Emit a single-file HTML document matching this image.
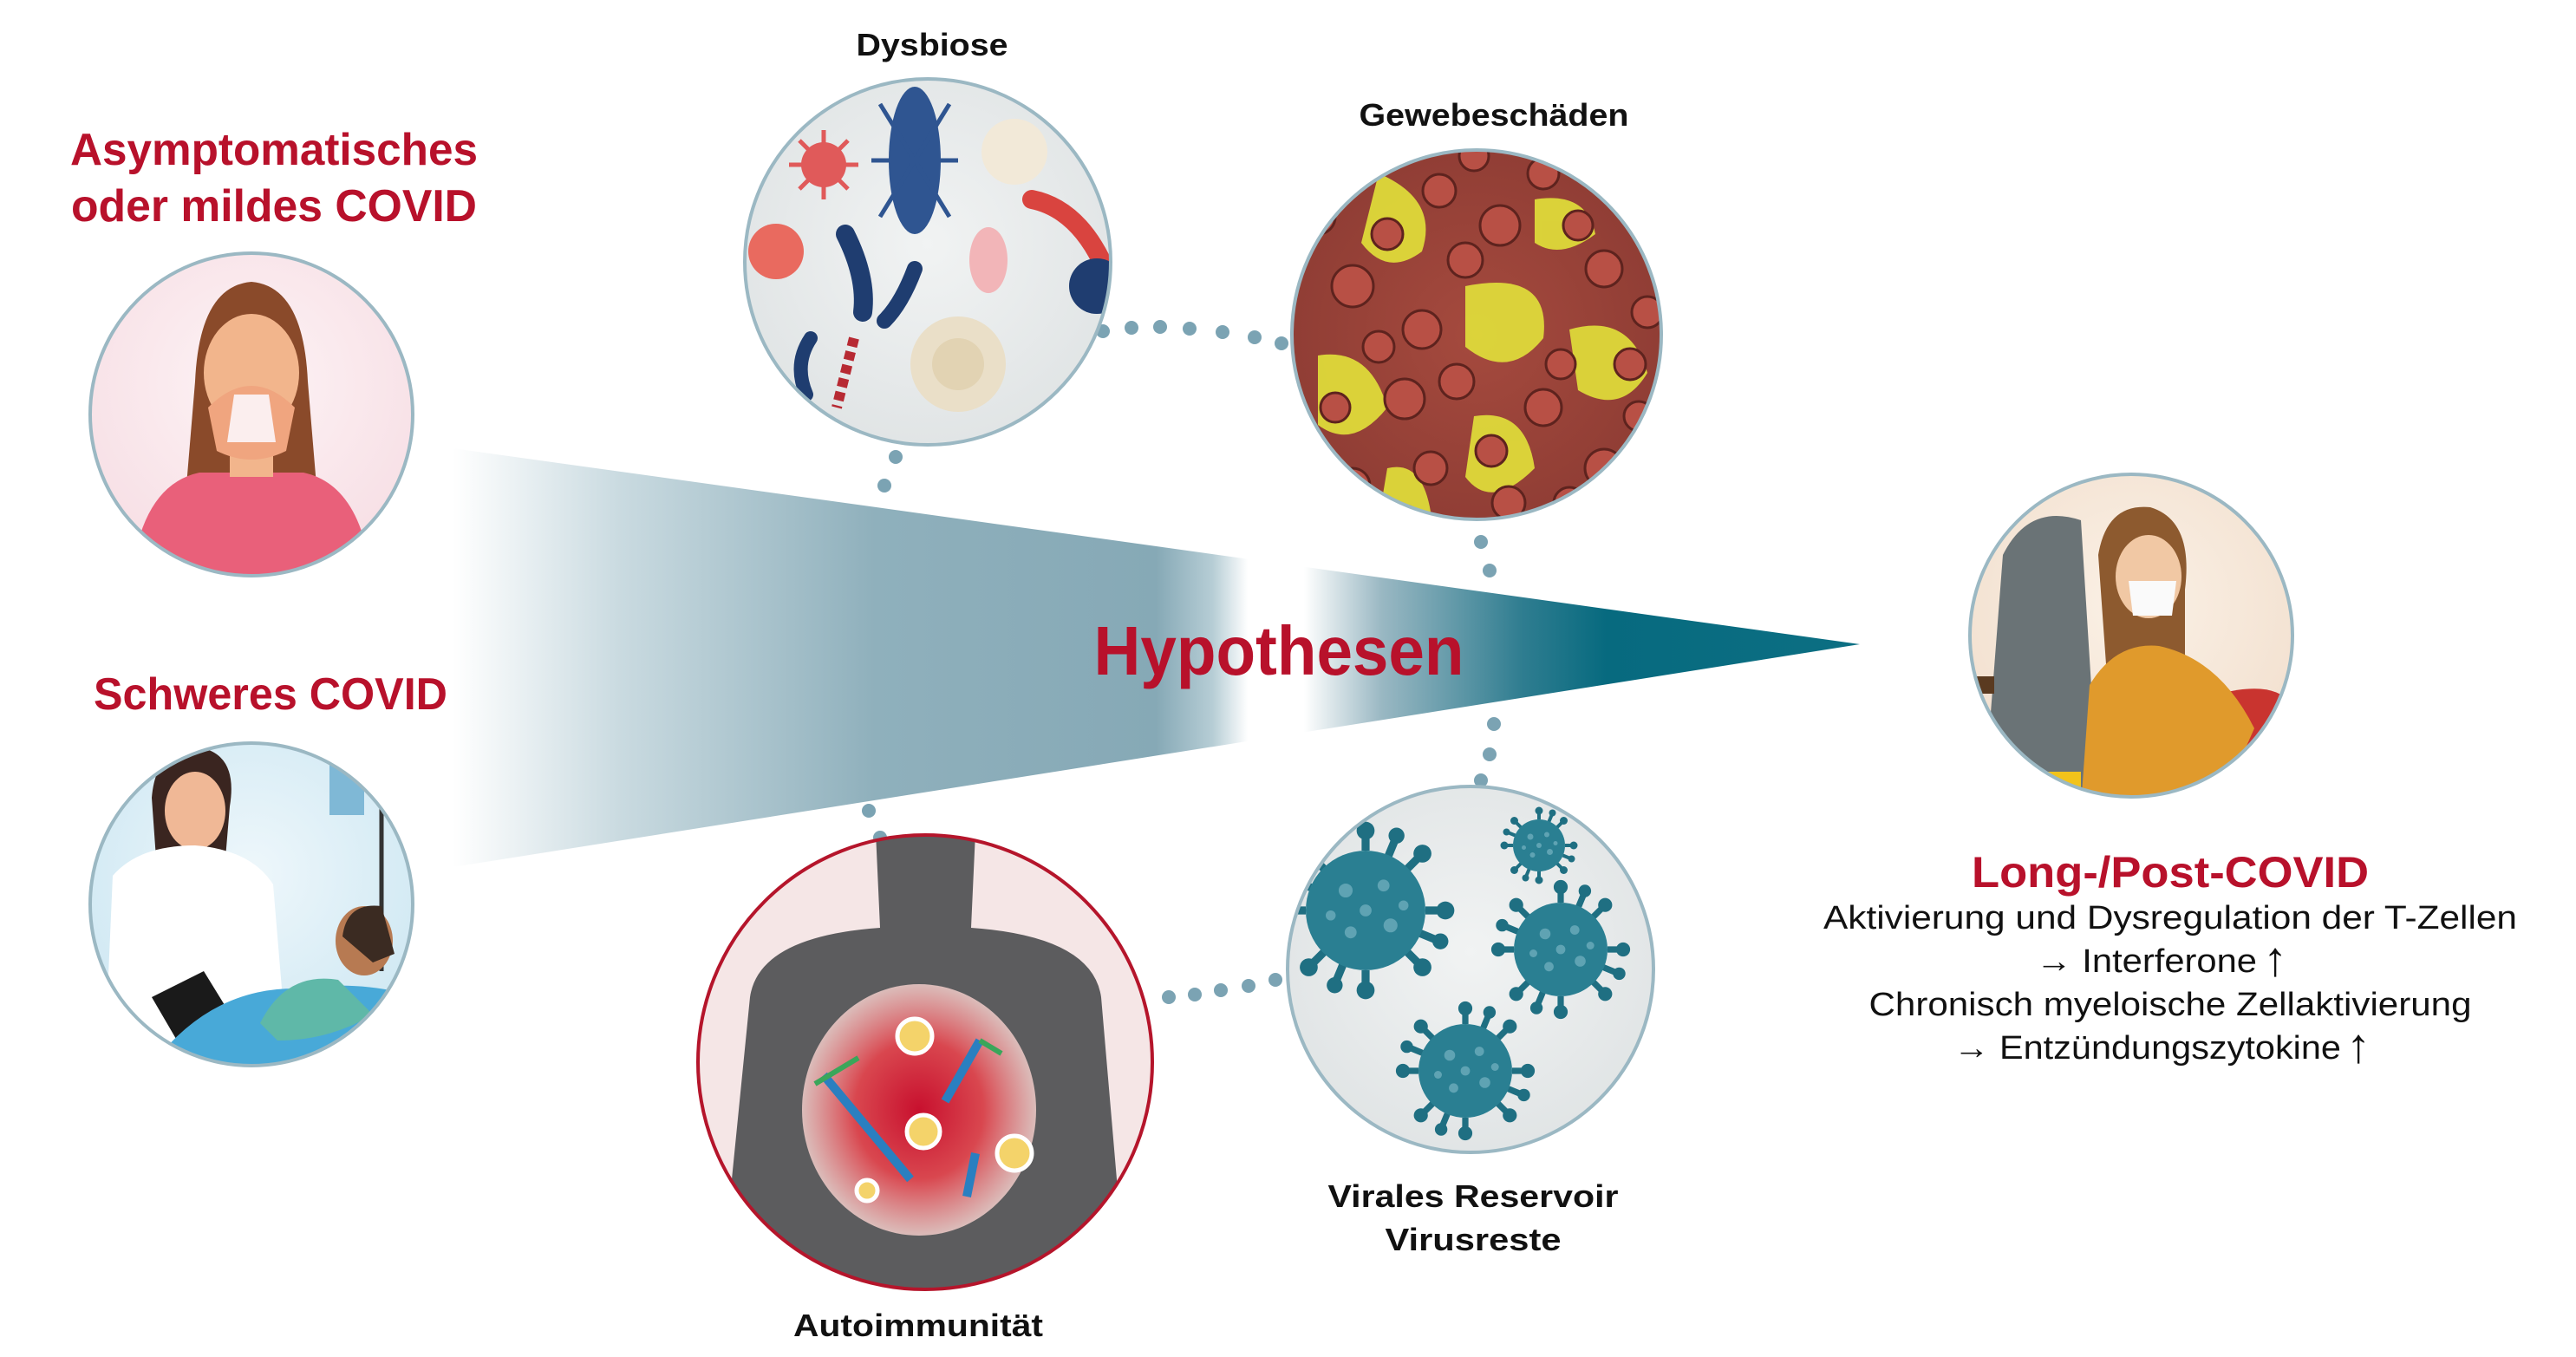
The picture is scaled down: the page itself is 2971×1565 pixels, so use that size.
<!DOCTYPE html>
<html><head><meta charset="utf-8"><style>
html,body{margin:0;padding:0;background:#fff;width:2971px;height:1565px;overflow:hidden}
svg{display:block}
text{font-family:"Liberation Sans Narrow","Liberation Sans",sans-serif}
</style></head><body>
<svg width="2971" height="1565" viewBox="0 0 2971 1565" xmlns="http://www.w3.org/2000/svg">
<defs>
<linearGradient id="wedge" x1="522" y1="0" x2="2145" y2="0" gradientUnits="userSpaceOnUse">
<stop offset="0" stop-color="#ffffff"/>
<stop offset="0.12" stop-color="#c9dae0"/>
<stop offset="0.3" stop-color="#8fb0bc"/>
<stop offset="0.5" stop-color="#86a9b6"/>
<stop offset="0.54" stop-color="#b6cdd5"/>
<stop offset="0.565" stop-color="#ffffff"/>
<stop offset="0.605" stop-color="#ffffff"/>
<stop offset="0.66" stop-color="#9ab8c3"/>
<stop offset="0.76" stop-color="#2f7d90"/>
<stop offset="0.82" stop-color="#076a7f"/>
<stop offset="1" stop-color="#0c6f83"/>
</linearGradient>
<radialGradient id="pink" cx="0.5" cy="0.4" r="0.6"><stop offset="0" stop-color="#fdf3f5"/><stop offset="1" stop-color="#f7dfe5"/></radialGradient>
<radialGradient id="hosp" cx="0.5" cy="0.4" r="0.6"><stop offset="0" stop-color="#eef7fb"/><stop offset="1" stop-color="#cfe8f3"/></radialGradient>
<radialGradient id="gray" cx="0.5" cy="0.45" r="0.6"><stop offset="0" stop-color="#f1f3f3"/><stop offset="1" stop-color="#dfe3e4"/></radialGradient>
<radialGradient id="tissue" cx="0.5" cy="0.5" r="0.6"><stop offset="0" stop-color="#a54a3e"/><stop offset="1" stop-color="#8c3b33"/></radialGradient>
<radialGradient id="glow" cx="0.5" cy="0.5" r="0.5"><stop offset="0" stop-color="#c8102e"/><stop offset="0.55" stop-color="#d9474f"/><stop offset="1" stop-color="#e9c7c4" stop-opacity="0.9"/></radialGradient>
<radialGradient id="beige" cx="0.5" cy="0.4" r="0.6"><stop offset="0" stop-color="#fbf1e6"/><stop offset="1" stop-color="#f2e0cf"/></radialGradient>
<clipPath id="c1"><circle cx="290" cy="478" r="186"/></clipPath>
<clipPath id="c2"><circle cx="290" cy="1043" r="186"/></clipPath>
<clipPath id="c3"><circle cx="1070" cy="302" r="211"/></clipPath>
<clipPath id="c4"><circle cx="1703" cy="386" r="213"/></clipPath>
<clipPath id="c5"><circle cx="1067" cy="1225" r="262"/></clipPath>
<clipPath id="c6"><circle cx="1696" cy="1118" r="211"/></clipPath>
<clipPath id="c7"><circle cx="2458" cy="733" r="186"/></clipPath>
<g id="virus">
<g stroke="#1f6f82" stroke-width="8">
<line x1="0" y1="-60" x2="0" y2="-78"/><line x1="0" y1="60" x2="0" y2="78"/>
<line x1="-60" y1="0" x2="-78" y2="0"/><line x1="60" y1="0" x2="78" y2="0"/>
<line x1="42" y1="42" x2="55" y2="55"/><line x1="-42" y1="42" x2="-55" y2="55"/>
<line x1="42" y1="-42" x2="55" y2="-55"/><line x1="-42" y1="-42" x2="-55" y2="-55"/>
<line x1="23" y1="-55" x2="30" y2="-72"/><line x1="-23" y1="55" x2="-30" y2="72"/>
<line x1="55" y1="23" x2="72" y2="30"/><line x1="-55" y1="-23" x2="-72" y2="-30"/>
</g>
<g fill="#1f6f82">
<circle cx="0" cy="-80" r="9"/><circle cx="0" cy="80" r="9"/><circle cx="-80" cy="0" r="9"/><circle cx="80" cy="0" r="9"/>
<circle cx="57" cy="57" r="9"/><circle cx="-57" cy="57" r="9"/><circle cx="57" cy="-57" r="9"/><circle cx="-57" cy="-57" r="9"/>
<circle cx="31" cy="-75" r="8"/><circle cx="-31" cy="75" r="8"/><circle cx="75" cy="31" r="8"/><circle cx="-75" cy="-31" r="8"/>
</g>
<circle r="60" fill="#2a7f92"/>
<g fill="#5fa3b3"><circle cx="-20" cy="-20" r="7"/><circle cx="18" cy="-25" r="6"/><circle cx="25" cy="15" r="7"/><circle cx="-15" cy="22" r="6"/><circle cx="0" cy="0" r="6"/><circle cx="-35" cy="5" r="5"/><circle cx="38" cy="-5" r="5"/></g>
</g>
</defs>

<polygon points="522,517 2145,743 522,1000" fill="url(#wedge)"/>

<g fill="#7ba3b3">
<circle cx="1272" cy="382" r="8"/><circle cx="1305" cy="378" r="8"/><circle cx="1338" cy="377" r="8"/><circle cx="1372" cy="379" r="8"/><circle cx="1410" cy="383" r="8"/><circle cx="1447" cy="389" r="8"/><circle cx="1478" cy="396" r="8"/>
<circle cx="1033" cy="527" r="8"/><circle cx="1020" cy="560" r="8"/>
<circle cx="1708" cy="625" r="8"/><circle cx="1718" cy="658" r="8"/>
<circle cx="1723" cy="835" r="8"/><circle cx="1718" cy="870" r="8"/><circle cx="1708" cy="900" r="8"/>
<circle cx="1002" cy="935" r="8"/><circle cx="1015" cy="966" r="8"/>
<circle cx="1348" cy="1150" r="8"/><circle cx="1378" cy="1147" r="8"/><circle cx="1408" cy="1142" r="8"/><circle cx="1440" cy="1137" r="8"/><circle cx="1471" cy="1130" r="8"/>
</g>

<g clip-path="url(#c1)">
<rect x="100" y="290" width="380" height="380" fill="url(#pink)"/>
<path d="M225,440 Q230,330 290,325 Q350,330 355,440 L365,560 L215,560 Z" fill="#8a4a2a"/>
<ellipse cx="290" cy="430" rx="55" ry="68" fill="#f2b58c"/>
<path d="M150,680 Q160,560 230,545 L350,545 Q420,560 430,680 Z" fill="#e9607a"/>
<rect x="265" y="490" width="50" height="60" fill="#f2b58c"/>
<path d="M240,470 Q290,420 340,470 L330,520 Q290,540 250,520 Z" fill="#f0a57f"/>
<path d="M270,455 L310,455 L318,510 L262,510 Z" fill="#fbeeee"/>
</g>
<circle cx="290" cy="478" r="186" fill="none" stroke="#9bb8c3" stroke-width="4"/>

<g clip-path="url(#c2)">
<rect x="100" y="855" width="380" height="380" fill="url(#hosp)"/>
<rect x="380" y="870" width="40" height="70" fill="#7fb8d6"/>
<line x1="440" y1="870" x2="440" y2="1120" stroke="#333" stroke-width="5"/>
<path d="M175,920 Q180,860 230,862 Q275,870 265,930 L260,990 L180,990 Z" fill="#3a2520"/>
<ellipse cx="225" cy="935" rx="35" ry="45" fill="#f0b896"/>
<path d="M120,1240 L130,1010 Q160,975 225,975 Q290,980 315,1020 L325,1140 L200,1240 Z" fill="#ffffff"/>
<path d="M175,1150 L235,1120 L275,1185 L210,1210 Z" fill="#1a1a1a"/>
<path d="M160,1250 Q230,1140 340,1140 Q420,1130 480,1150 L480,1250 Z" fill="#48a9d8"/>
<path d="M300,1180 Q330,1120 390,1130 L430,1170 Q380,1200 320,1200 Z" fill="#5fb8a8"/>
<ellipse cx="420" cy="1085" rx="33" ry="40" fill="#b77a52"/>
<path d="M395,1080 Q400,1040 440,1045 L455,1100 L430,1110 Z" fill="#3b2b22"/>
</g>
<circle cx="290" cy="1043" r="186" fill="none" stroke="#9bb8c3" stroke-width="4"/>

<g clip-path="url(#c3)">
<rect x="855" y="88" width="430" height="430" fill="url(#gray)"/>
<ellipse cx="1055" cy="185" rx="30" ry="85" fill="#2f5591"/>
<g stroke="#2f5591" stroke-width="5"><line x1="1015" y1="120" x2="1095" y2="250"/><line x1="1095" y1="120" x2="1015" y2="250"/><line x1="1005" y1="185" x2="1105" y2="185"/></g>
<circle cx="950" cy="190" r="26" fill="#e05a5a"/>
<g stroke="#e05a5a" stroke-width="5"><line x1="910" y1="190" x2="990" y2="190"/><line x1="950" y1="150" x2="950" y2="230"/><line x1="922" y1="162" x2="978" y2="218"/><line x1="978" y1="162" x2="922" y2="218"/></g>
<circle cx="895" cy="290" r="32" fill="#e96a5f"/>
<circle cx="1170" cy="175" r="38" fill="#f2e9d8"/>
<path d="M1190,230 Q1240,240 1270,300" stroke="#d9443f" stroke-width="22" fill="none" stroke-linecap="round"/>
<ellipse cx="1140" cy="300" rx="22" ry="38" fill="#f2b5b8"/>
<path d="M975,270 Q1000,320 995,360" stroke="#1f3d70" stroke-width="22" fill="none" stroke-linecap="round"/>
<path d="M1055,310 Q1040,350 1020,370" stroke="#1f3d70" stroke-width="18" fill="none" stroke-linecap="round"/>
<circle cx="1105" cy="420" r="55" fill="#eadfc8"/>
<circle cx="1105" cy="420" r="30" fill="#e2d3b3"/>
<path d="M935,390 Q915,420 930,455" stroke="#1f3d70" stroke-width="16" fill="none" stroke-linecap="round"/>
<path d="M985,390 L965,470" stroke="#b72a33" stroke-width="12" stroke-dasharray="10 6" fill="none"/>
<circle cx="1265" cy="330" r="32" fill="#1f3d70"/>
</g>
<circle cx="1070" cy="302" r="211" fill="none" stroke="#9bb8c3" stroke-width="4"/>

<g clip-path="url(#c4)">
<rect x="1488" y="170" width="430" height="432" fill="url(#tissue)"/>
<g fill="#e2e23a" opacity="0.9">
<path d="M1590,200 Q1660,230 1640,290 Q1600,320 1570,280 Z"/>
<path d="M1690,330 Q1790,310 1780,390 Q1740,440 1690,400 Z"/>
<path d="M1810,380 Q1880,360 1900,430 Q1870,480 1820,450 Z"/>
<path d="M1520,410 Q1580,400 1600,470 Q1560,520 1520,490 Z"/>
<path d="M1700,480 Q1760,470 1770,540 Q1720,590 1690,550 Z"/>
<path d="M1770,230 Q1830,220 1840,270 Q1800,300 1770,280 Z"/>
<path d="M1600,540 Q1640,530 1650,590 L1590,600 Z"/>
</g>
<g fill="#b85045" stroke="#5e231e" stroke-width="3">
<circle cx="1560" cy="330" r="24"/><circle cx="1640" cy="380" r="22"/><circle cx="1730" cy="260" r="23"/><circle cx="1850" cy="310" r="21"/>
<circle cx="1620" cy="460" r="23"/><circle cx="1780" cy="470" r="21"/><circle cx="1850" cy="540" r="22"/><circle cx="1660" cy="220" r="19"/>
<circle cx="1560" cy="560" r="20"/><circle cx="1740" cy="580" r="19"/><circle cx="1880" cy="420" r="18"/>
<circle cx="1520" cy="250" r="20"/><circle cx="1600" cy="270" r="18"/><circle cx="1690" cy="300" r="20"/><circle cx="1780" cy="200" r="18"/>
<circle cx="1820" cy="260" r="17"/><circle cx="1900" cy="360" r="18"/><circle cx="1680" cy="440" r="20"/><circle cx="1720" cy="520" r="18"/>
<circle cx="1800" cy="420" r="17"/><circle cx="1590" cy="400" r="18"/><circle cx="1540" cy="470" r="17"/><circle cx="1650" cy="540" r="19"/>
<circle cx="1810" cy="580" r="18"/><circle cx="1890" cy="480" r="17"/><circle cx="1700" cy="180" r="17"/><circle cx="1620" cy="600" r="17"/>
</g>
</g>
<circle cx="1703" cy="386" r="213" fill="none" stroke="#9bb8c3" stroke-width="4"/>

<g clip-path="url(#c5)">
<rect x="800" y="960" width="535" height="535" fill="#ffffff"/>
<circle cx="1067" cy="1225" r="262" fill="#f5e6e6"/>
<path d="M1010,960 L1125,960 L1120,1070 Q1260,1080 1270,1150 L1300,1500 L830,1500 L865,1150 Q875,1080 1015,1070 Z" fill="#5c5c5e"/>
<ellipse cx="1060" cy="1280" rx="135" ry="145" fill="url(#glow)"/>
<g stroke="#2a7fc0" stroke-width="10"><line x1="950" y1="1240" x2="1050" y2="1360"/><line x1="1090" y1="1270" x2="1130" y2="1200"/><line x1="1115" y1="1380" x2="1125" y2="1330"/></g>
<g stroke="#3aa65a" stroke-width="6"><line x1="940" y1="1250" x2="990" y2="1220"/><line x1="1130" y1="1200" x2="1155" y2="1215"/></g>
<g fill="#f4d36a" stroke="#fff" stroke-width="5"><circle cx="1055" cy="1195" r="20"/><circle cx="1065" cy="1305" r="19"/><circle cx="1170" cy="1330" r="20"/><circle cx="1000" cy="1373" r="12"/></g>
</g>
<circle cx="1067" cy="1225" r="262" fill="none" stroke="#b5152b" stroke-width="4"/>

<g clip-path="url(#c6)">
<rect x="1480" y="905" width="432" height="428" fill="url(#gray)"/>
<use href="#virus" transform="translate(1575,1050) scale(1.15)"/>
<use href="#virus" transform="translate(1775,975) scale(0.5)"/>
<use href="#virus" transform="translate(1800,1095) scale(0.9)"/>
<use href="#virus" transform="translate(1690,1235) scale(0.9)"/>
</g>
<circle cx="1696" cy="1118" r="211" fill="none" stroke="#9bb8c3" stroke-width="4"/>

<g clip-path="url(#c7)">
<rect x="2270" y="545" width="380" height="380" fill="url(#beige)"/>
<path d="M2290,900 L2310,640 Q2340,580 2400,600 L2420,920 Z" fill="#6a7376"/>
<path d="M2560,800 Q2640,780 2650,830 L2650,930 L2500,930 Z" fill="#c9342f"/>
<rect x="2270" y="780" width="30" height="20" fill="#5a3a20"/>
<path d="M2420,640 Q2430,580 2480,585 Q2530,600 2520,680 L2520,780 L2430,780 Z" fill="#8d5a2f"/>
<ellipse cx="2478" cy="665" rx="38" ry="48" fill="#f1c8a4"/>
<path d="M2455,670 L2510,670 L2505,710 L2460,710 Z" fill="#fafafa"/>
<path d="M2400,930 L2410,790 Q2440,740 2490,745 Q2560,760 2600,840 L2560,930 Z" fill="#e09a2c"/>
<rect x="2340" y="890" width="60" height="40" fill="#f2c31a"/>
</g>
<circle cx="2458" cy="733" r="186" fill="none" stroke="#9bb8c3" stroke-width="4"/>

<g font-weight="bold" text-anchor="middle">
<text x="316" y="190" font-size="52" fill="#b8112b" textLength="470" lengthAdjust="spacingAndGlyphs">Asymptomatisches</text>
<text x="316" y="255" font-size="52" fill="#b8112b" textLength="468" lengthAdjust="spacingAndGlyphs">oder mildes COVID</text>
<text x="312" y="818" font-size="52" fill="#b8112b" textLength="408" lengthAdjust="spacingAndGlyphs">Schweres COVID</text>
<text x="1475" y="778" font-size="80" fill="#b8112b" textLength="427" lengthAdjust="spacingAndGlyphs">Hypothesen</text>
<text x="1075" y="64" font-size="36" fill="#111" textLength="175" lengthAdjust="spacingAndGlyphs">Dysbiose</text>
<text x="1723" y="145" font-size="36" fill="#111" textLength="311" lengthAdjust="spacingAndGlyphs">Gewebeschäden</text>
<text x="1059" y="1541" font-size="36" fill="#111" textLength="288" lengthAdjust="spacingAndGlyphs">Autoimmunität</text>
<text x="1699" y="1392" font-size="36" fill="#111" textLength="335" lengthAdjust="spacingAndGlyphs">Virales Reservoir</text>
<text x="1699" y="1442" font-size="36" fill="#111" textLength="203" lengthAdjust="spacingAndGlyphs">Virusreste</text>
<text x="2503" y="1023" font-size="50" fill="#b8112b" textLength="458" lengthAdjust="spacingAndGlyphs">Long-/Post-COVID</text>
</g>
<g font-size="38" fill="#111">
<text x="2503" y="1071" text-anchor="middle" textLength="800" lengthAdjust="spacingAndGlyphs">Aktivierung und Dysregulation der T-Zellen</text>
<text x="2348" y="1121" textLength="255" lengthAdjust="spacingAndGlyphs">→ Interferone</text>
<text x="2610" y="1125" font-size="56" font-weight="bold">↑</text>
<text x="2503" y="1171" text-anchor="middle" textLength="695" lengthAdjust="spacingAndGlyphs">Chronisch myeloische Zellaktivierung</text>
<text x="2253" y="1221" textLength="447" lengthAdjust="spacingAndGlyphs">→ Entzündungszytokine</text>
<text x="2706" y="1225" font-size="56" font-weight="bold">↑</text>
</g>
</svg>
</body></html>
